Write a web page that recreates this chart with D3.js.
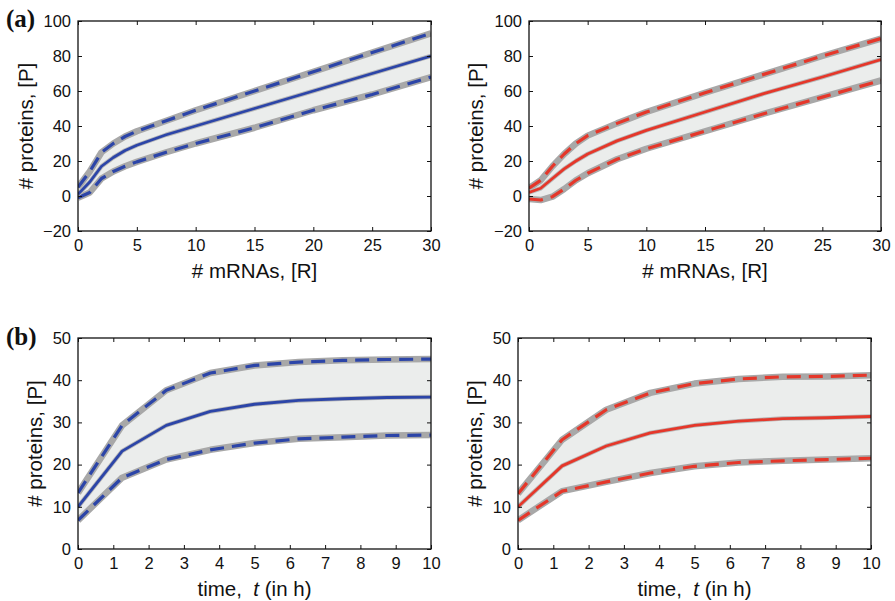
<!DOCTYPE html>
<html>
<head>
<meta charset="utf-8">
<script src="https://cdn.jsdelivr.net/npm/d3@7"></script>
<style>
  body { margin: 0; background: #fff; }
  svg { display: block; }
  text { font-family: "Liberation Sans", Arial, Helvetica, sans-serif; fill: #111; }
</style>
</head>
<body>
<div id="content"></div>
<script>
// (a) proteins vs mRNAs
const mrnaX = [0, 1, 2, 3, 4, 5, 7.5, 10, 15, 20, 25, 30];
const aBlueMid = [1, 8, 17, 22, 26, 29, 35, 40, 50, 60, 70, 80];
const aBlueUp  = [5, 14, 25, 30, 34, 37, 43, 49, 60, 71, 82, 93];
const aBlueLow = [-1, 2, 10, 14, 17, 19.5, 25, 30, 39, 49, 58, 68];
const aRedMid  = [2, 4.4, 10, 15.5, 20, 24, 31.5, 37.5, 48, 58.5, 68, 78];
const aRedUp   = [4.5, 9, 17, 24, 30, 34.5, 41.5, 48, 59, 69.5, 80, 90];
const aRedLow  = [-1.7, -2.3, -0.4, 4, 9, 13, 21, 27, 37, 47, 56.5, 66];
const mrnaTicks = [0, 5, 10, 15, 20, 25, 30];
const protTicksA = [-20, 0, 20, 40, 60, 80, 100];

// (b) proteins vs time
const timeX = [0, 1.25, 2.5, 3.75, 5, 6.25, 7.5, 8.75, 10];
const bBlueMid = [10, 23.2, 29.3, 32.6, 34.3, 35.2, 35.6, 35.9, 36];
const bBlueUp  = [13.3, 29.3, 37.6, 41.7, 43.5, 44.3, 44.7, 44.9, 45];
const bBlueLow = [6.8, 16.9, 21.2, 23.5, 25.1, 26.1, 26.5, 26.9, 27];
const bRedMid  = [10, 19.7, 24.4, 27.5, 29.3, 30.3, 30.9, 31.1, 31.4];
const bRedUp   = [13.1, 25.9, 33, 37, 39.2, 40.3, 40.8, 40.9, 41.2];
const bRedLow  = [6.8, 13.7, 15.9, 18, 19.6, 20.5, 20.9, 21.2, 21.5];
const timeTicks = [0, 1, 2, 3, 4, 5, 6, 7, 8, 9, 10];
const protTicksB = [0, 10, 20, 30, 40, 50];

const W = 895, H = 601;
const BLUE = "#2c45a8", RED = "#e5372a", HALO = "#a8a8a8", BAND = "#ebedec";

const svg = d3.select("#content").append("svg")
  .attr("width", W).attr("height", H);

const defs = svg.append("defs");

function panel(id, box, xs, mid, up, low, xDom, yDom, xTicks, yTicks, col, xlab, labOff) {
  const [x0, y0, x1, y1] = box;
  const xScale = d3.scaleLinear().domain(xDom).range([x0, x1]);
  const yScale = d3.scaleLinear().domain(yDom).range([y1, y0]);

  defs.append("clipPath").attr("id", "clip" + id)
    .append("rect").attr("x", x0).attr("y", y0).attr("width", x1 - x0).attr("height", y1 - y0);

  const g = svg.append("g");
  const plot = g.append("g").attr("clip-path", `url(#clip${id})`);

  const pts = xs.map((x, i) => ({ x: x, m: mid[i], u: up[i], l: low[i] }));

  const area = d3.area().x(d => xScale(d.x)).y0(d => yScale(d.l)).y1(d => yScale(d.u));
  plot.append("path").datum(pts).attr("d", area).attr("fill", BAND);

  const line = key => d3.line().x(d => xScale(d.x)).y(d => yScale(d[key]));

  ["u", "l"].forEach(k => {
    plot.append("path").datum(pts).attr("d", line(k))
      .attr("fill", "none").attr("stroke", HALO).attr("stroke-width", 6.5)
      .attr("stroke-linejoin", "round");
    plot.append("path").datum(pts).attr("d", line(k))
      .attr("fill", "none").attr("stroke", col).attr("stroke-width", 3.2)
      .attr("stroke-dasharray", "14,8").attr("stroke-linejoin", "round");
  });
  plot.append("path").datum(pts).attr("d", line("m"))
    .attr("fill", "none").attr("stroke", "#b8b8b8").attr("stroke-width", 4.5)
    .attr("stroke-linejoin", "round");
  plot.append("path").datum(pts).attr("d", line("m"))
    .attr("fill", "none").attr("stroke", col).attr("stroke-width", 2.8)
    .attr("stroke-linejoin", "round");

  // axes, ticks pointing inward on all four sides
  const tk = 4;
  const bottom = g.append("g").attr("transform", `translate(0,${y1})`)
    .call(d3.axisBottom(xScale).tickValues(xTicks).tickSize(-tk).tickPadding(8).tickFormat(d3.format("d")));
  const top = g.append("g").attr("transform", `translate(0,${y0})`)
    .call(d3.axisTop(xScale).tickValues(xTicks).tickSize(-tk).tickFormat(""));
  const left = g.append("g").attr("transform", `translate(${x0},0)`)
    .call(d3.axisLeft(yScale).tickValues(yTicks).tickSize(-tk).tickPadding(7)
      .tickFormat(d => d < 0 ? "\u2212" + Math.abs(d) : d));
  const right = g.append("g").attr("transform", `translate(${x1},0)`)
    .call(d3.axisRight(yScale).tickValues(yTicks).tickSize(-tk).tickFormat(""));
  [bottom, top, left, right].forEach(a => {
    a.select(".domain").remove();
    a.selectAll("line").attr("stroke", "#111").attr("stroke-width", 1);
    a.selectAll("text").attr("font-size", 16.5).attr("fill", "#111")
      .attr("font-family", "'Liberation Sans', Arial, sans-serif");
  });

  g.append("rect").attr("x", x0).attr("y", y0).attr("width", x1 - x0).attr("height", y1 - y0)
    .attr("fill", "none").attr("stroke", "#111").attr("stroke-width", 1.3);

  // labels
  const xl = g.append("text").attr("x", (x0 + x1) / 2).attr("y", y1 + 47)
    .attr("text-anchor", "middle").attr("font-size", 20.5);
  if (xlab === "time") {
    xl.append("tspan").text("time,\u00a0\u00a0");
    xl.append("tspan").attr("font-style", "italic").text("t");
    xl.append("tspan").text(" (in h)");
  } else {
    xl.text("# mRNAs, [R]");
  }
  g.append("text").attr("transform", `translate(${x0 - labOff},${(y0 + y1) / 2}) rotate(-90)`)
    .attr("text-anchor", "middle").attr("font-size", 20.5).text("# proteins, [P]");
}

panel("a1", [78, 21, 431, 231], mrnaX, aBlueMid, aBlueUp, aBlueLow, [0, 30], [-20, 100], mrnaTicks, protTicksA, BLUE, "mrna", 45);
panel("a2", [529, 21, 881, 231], mrnaX, aRedMid, aRedUp, aRedLow, [0, 30], [-20, 100], mrnaTicks, protTicksA, RED, "mrna", 46);
panel("b1", [78, 338, 431, 549], timeX, bBlueMid, bBlueUp, bBlueLow, [0, 10], [0, 50], timeTicks, protTicksB, BLUE, "time", 36);
panel("b2", [518, 338, 871, 549], timeX, bRedMid, bRedUp, bRedLow, [0, 10], [0, 50], timeTicks, protTicksB, RED, "time", 36);

svg.append("text").attr("x", 6).attr("y", 27)
  .style("font-family", "'Liberation Serif', 'Times New Roman', serif")
  .attr("font-weight", "bold").attr("font-size", 25).text("(a)");
svg.append("text").attr("x", 6).attr("y", 345)
  .style("font-family", "'Liberation Serif', 'Times New Roman', serif")
  .attr("font-weight", "bold").attr("font-size", 25).text("(b)");
</script>
</body>
</html>
